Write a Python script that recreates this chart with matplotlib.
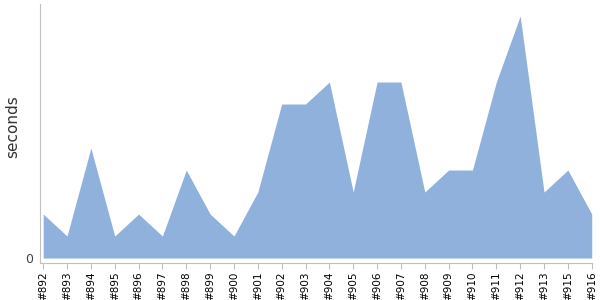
import matplotlib
matplotlib.use("Agg")
import matplotlib.pyplot as plt

builds = ['#892', '#893', '#894', '#895', '#896', '#897', '#898', '#899', '#900',
          '#901', '#902', '#903', '#904', '#905', '#906', '#907', '#908', '#909',
          '#910', '#911', '#912', '#913', '#915', '#916']
seconds = [2, 1, 5, 1, 2, 1, 4, 2, 1, 3, 7, 7, 8, 3, 8, 8, 3, 4, 4, 8, 11, 3, 4, 2]

fig = plt.figure(figsize=(6, 3), dpi=100)
ax = fig.add_axes([0.066, 0.123, 0.921, 0.864])

x = list(range(len(builds)))
ax.fill_between(x, 0, seconds, color='#8fb1db', linewidth=0)

ax.set_xlim(-0.15, len(builds) - 1 + 0.02)
ax.set_ylim(-0.23, 11.55)
ax.set_xticks(x)
ax.set_xticklabels(builds, rotation=90, fontsize=7.5)
ax.set_yticks([0])
ax.set_yticklabels(['0'], fontsize=9, color='#444444')
ax.tick_params(axis='x', length=4, color='#c0c0c0', pad=2)
ax.tick_params(axis='y', length=0, pad=5)

for s in ['top', 'right']:
    ax.spines[s].set_visible(False)
for s in ['left', 'bottom']:
    ax.spines[s].set_color('#c0c0c0')

ax.set_ylabel('seconds', fontsize=11, color='#333333')
ax.yaxis.set_label_coords(-0.035, 0.525)

fig.savefig('out.png', dpi=100)
